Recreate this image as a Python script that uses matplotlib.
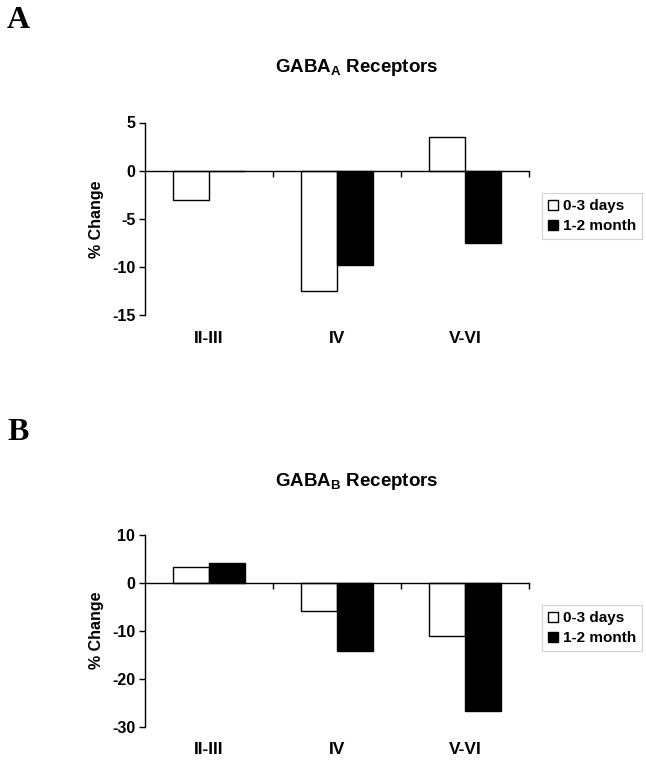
import matplotlib
matplotlib.use("Agg")
import matplotlib.pyplot as plt
import numpy as np

categories = ["II-III", "IV", "V-VI"]
series_names = ["0-3 days", "1-2 month"]
gabaa_early = [-3.0, -12.5, 3.5]
gabaa_late = [0.0, -9.8, -7.5]
gabab_early = [3.2, -5.8, -11.1]
gabab_late = [4.2, -14.2, -26.7]
yticks_a = [5, 0, -5, -10, -15]
yticks_b = [10, 0, -10, -20, -30]

plt.rcParams['font.family'] = ['Liberation Sans', 'DejaVu Sans']
plt.rcParams['mathtext.fontset'] = 'custom'
plt.rcParams['mathtext.rm'] = 'Liberation Sans:bold'
plt.rcParams['mathtext.bf'] = 'Liberation Sans:bold'

W, H = 646, 762
fig = plt.figure(figsize=(W / 100, H / 100), dpi=100)

def fx(px):
    return px / W

def fy(py):
    return 1 - py / H

def panel(rect, early, late, yticks, title, title_y, letter, letter_y, legend_top):
    ax = fig.add_axes(rect)
    x = np.arange(len(categories))
    w = 0.285
    b1 = ax.bar(x - w / 2, early, w, color='white', edgecolor='black', linewidth=1.0, label=series_names[0], zorder=2)
    b2 = ax.bar(x + w / 2, late, w, color='black', edgecolor='black', linewidth=1.0, label=series_names[1], zorder=2)
    ax.set_xlim(-0.5, len(categories) - 0.5)
    ax.set_ylim(min(yticks), max(yticks))
    ax.set_yticks(yticks)
    ax.set_yticklabels([str(t) for t in yticks], fontsize=11.5, fontweight='bold')
    ax.tick_params(axis='y', direction='out', length=4, width=1, pad=3)
    for s in ['top', 'right']:
        ax.spines[s].set_visible(False)
    ax.spines['left'].set_linewidth(1)
    ax.spines['bottom'].set_position(('data', 0))
    ax.spines['bottom'].set_linewidth(1)
    ax.set_xticks(x)
    ax.set_xticklabels([])
    ax.tick_params(axis='x', which='major', length=0)
    ax.set_xticks(np.arange(len(categories)) + 0.5, minor=True)
    ax.tick_params(axis='x', which='minor', direction='out', length=4, width=1)
    for i, c in enumerate(categories):
        ax.text(i, -0.118, c, transform=ax.get_xaxis_transform(), ha='center', va='center',
                fontsize=12.5, fontweight='bold')
    ax.set_ylabel('% Change', fontsize=11.5, fontweight='bold', labelpad=6)
    fig.text(fx(357), fy(title_y), title, ha='center', va='center', fontsize=13.5, fontweight='bold')
    fig.text(fx(7), fy(letter_y), letter, ha='left', va='center', fontsize=23, fontweight='bold',
             family='Liberation Serif')
    leg = ax.legend(handles=[b1, b2], loc='upper left', bbox_to_anchor=(fx(542), fy(legend_top)),
                    bbox_transform=fig.transFigure, prop={'weight': 'bold', 'size': 11},
                    frameon=True, fancybox=False, handlelength=0.65, handleheight=0.65,
                    handletextpad=0.3, borderpad=0.4, labelspacing=0.4, borderaxespad=0)
    leg.get_frame().set_edgecolor('#c8c8c8')
    leg.get_frame().set_linewidth(0.8)
    return ax

panel([fx(145), fy(315.3), fx(384), (315.3 - 122.5) / H], gabaa_early, gabaa_late, yticks_a,
      r'GABA$_{\mathregular{A}}$ Receptors', 68, 'A', 20, 193)
panel([fx(145), fy(726.7), fx(384), (726.7 - 534.7) / H], gabab_early, gabab_late, yticks_b,
      r'GABA$_{\mathregular{B}}$ Receptors', 482, 'B', 433, 605)

fig.savefig('out.png', dpi=100)
